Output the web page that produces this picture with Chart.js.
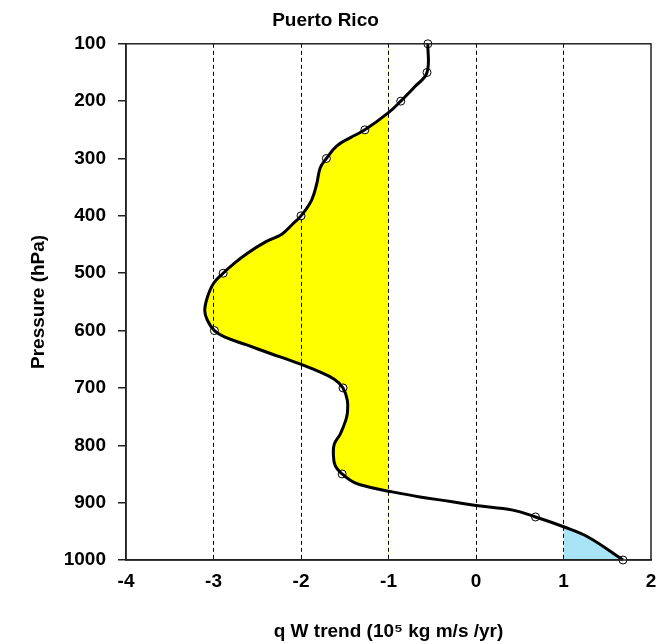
<!DOCTYPE html>
<html>
<head>
<meta charset="utf-8">
<title>Puerto Rico</title>
<script src="https://cdn.jsdelivr.net/npm/chart.js@4"></script>
<style>
  html, body { margin: 0; padding: 0; background: #fff; }
  #wrap { width: 661px; height: 644px; }
</style>
</head>
<body>
<div id="wrap"><canvas id="profileChart"></canvas></div>
<script>
// traced curve (pressure in hPa, trend value)
const curvePressure = [
  100, 150, 175, 200, 220, 250, 264, 278, 300, 316, 344, 373, 400, 415,
  432, 445, 466, 485, 500, 518, 542, 565, 582, 600, 612, 625, 640, 655, 670,
  685, 700, 722, 744, 757, 780, 798, 815, 835, 850, 865, 874, 880,
  890, 898, 905, 913, 925, 942, 960, 1000
];
const curveTrend = [
  -0.55, -0.56, -0.70, -0.86, -1.00, -1.27, -1.44, -1.59, -1.71, -1.78, -1.82, -1.88, -2.00, -2.10,
  -2.22, -2.40, -2.62, -2.78, -2.89, -3.00, -3.07, -3.10, -3.07, -2.99, -2.86, -2.62, -2.35, -2.07, -1.82,
  -1.62, -1.52, -1.47, -1.47, -1.49, -1.55, -1.62, -1.63, -1.61, -1.53, -1.39, -1.19, -1.00,
  -0.64, -0.29, 0.00, 0.42, 0.68, 1.00, 1.28, 1.68
];

// marked levels
const markerPressure = [100, 150, 200, 250, 300, 400, 500, 600, 700, 850, 925, 1000];
const markerTrend = [-0.55, -0.56, -0.86, -1.27, -1.71, -2.00, -2.89, -2.99, -1.52, -1.53, 0.68, 1.68];

const xTicks = [-4, -3, -2, -1, 0, 1, 2];
const yTicks = [100, 200, 300, 400, 500, 600, 700, 800, 900, 1000];

// shading limits: left of -1 yellow, right of +1 blue
const negLimit = -1;
const posLimit = 1;

const fontFamily = '"Liberation Sans", Arial, sans-serif';

const curvePoints = curvePressure.map((p, i) => ({ x: curveTrend[i], y: p }));
const markerPoints = markerPressure.map((p, i) => ({ x: markerTrend[i], y: p }));

// fill between the curve and a vertical line, clipped to one side
function shadeSide(chart, line, limit, color, side) {
  const ctx = chart.ctx;
  const area = chart.chartArea;
  const xs = chart.scales.x;
  const ys = chart.scales.y;
  const xl = xs.getPixelForValue(limit);

  ctx.save();
  ctx.beginPath();
  if (side === 'left') ctx.rect(area.left, area.top, xl - area.left, area.bottom - area.top);
  else ctx.rect(xl, area.top, area.right - xl, area.bottom - area.top);
  ctx.clip();

  ctx.beginPath();
  if (line.path) {
    line.path(ctx);
  } else {
    line.points.forEach((pt, i) => (i ? ctx.lineTo(pt.x, pt.y) : ctx.moveTo(pt.x, pt.y)));
  }
  ctx.lineTo(xl, ys.getPixelForValue(curvePressure[curvePressure.length - 1]));
  ctx.lineTo(xl, ys.getPixelForValue(curvePressure[0]));
  ctx.closePath();
  ctx.fillStyle = color;
  ctx.fill();
  ctx.restore();
}

// drawn before the grid so the dashed lines stay on top of the shading
const shadePlugin = {
  id: 'shade',
  beforeDraw(chart) {
    const line = chart.getDatasetMeta(0).dataset;
    if (!line) return;
    if (line.updateControlPoints) line.updateControlPoints(chart.chartArea, 'x');
    shadeSide(chart, line, negLimit, '#ffff00', 'left');
    shadeSide(chart, line, posLimit, '#a9e4f6', 'right');
  }
};

// box around the plot area
const framePlugin = {
  id: 'frame',
  afterDraw(chart) {
    const { ctx, chartArea: a } = chart;
    ctx.save();
    ctx.strokeStyle = '#222';
    ctx.lineWidth = 1.5;
    ctx.strokeRect(a.left, a.top, a.right - a.left, a.bottom - a.top);
    ctx.restore();
  }
};

const ctx = document.getElementById('profileChart').getContext('2d');

new Chart(ctx, {
  type: 'scatter',
  data: {
    datasets: [
      {
        label: 'curve',
        data: curvePoints,
        showLine: true,
        borderColor: '#000',
        borderWidth: 3,
        tension: 0.4,
        pointRadius: 0,
        clip: false
      },
      {
        label: 'levels',
        data: markerPoints,
        showLine: false,
        pointRadius: 4,
        pointBackgroundColor: '#fff',
        pointBorderColor: '#000',
        pointBorderWidth: 1,
        clip: false
      }
    ]
  },
  options: {
    responsive: true,
    maintainAspectRatio: false,
    animation: false,
    layout: { padding: { left: 0, right: 10, top: 0, bottom: 0 } },
    plugins: {
      legend: { display: false },
      tooltip: { enabled: false },
      title: {
        display: true,
        text: 'Puerto Rico',
        color: '#000',
        font: { family: fontFamily, size: 19, weight: 'bold' },
        padding: { top: 9, bottom: 12 }
      }
    },
    scales: {
      x: {
        type: 'linear',
        min: xTicks[0],
        max: xTicks[xTicks.length - 1],
        afterBuildTicks: (scale) => { scale.ticks = xTicks.map(v => ({ value: v })); },
        afterFit: (scale) => {
          scale.height = 84;
          scale.paddingRight = 0;
          scale.paddingLeft = 0;
        },
        title: {
          display: true,
          text: 'q W trend (10\u2075 kg m/s /yr)',
          color: '#000',
          font: { family: fontFamily, size: 19, weight: 'bold' },
          padding: { top: 0, bottom: 1 }
        },
        grid: {
          drawTicks: false,
          color: (c) => (c.tick && (c.tick.value === xTicks[0] || c.tick.value === xTicks[xTicks.length - 1]) ? 'rgba(0,0,0,0)' : '#000'),
          lineWidth: 1
        },
        border: { display: true, color: '#222', width: 1.5, dash: [4, 3] },
        ticks: {
          color: '#000',
          padding: 10,
          font: { family: fontFamily, size: 19, weight: 'bold' }
        }
      },
      y: {
        type: 'linear',
        reverse: true,
        min: yTicks[0],
        max: yTicks[yTicks.length - 1],
        afterBuildTicks: (scale) => { scale.ticks = yTicks.map(v => ({ value: v })); },
        afterFit: (scale) => { scale.width = 126; },
        title: {
          display: true,
          text: 'Pressure (hPa)',
          color: '#000',
          font: { family: fontFamily, size: 19, weight: 'bold' },
          padding: { top: 27, bottom: 0 }
        },
        grid: {
          drawOnChartArea: false,
          drawTicks: true,
          tickLength: 8,
          color: '#222',
          lineWidth: 1.5
        },
        border: { display: true, color: '#222', width: 1.5 },
        ticks: {
          color: '#000',
          padding: 12,
          font: { family: fontFamily, size: 19, weight: 'bold' },
          callback: (v) => String(v)
        }
      }
    }
  },
  plugins: [shadePlugin, framePlugin]
});
</script>
</body>
</html>
